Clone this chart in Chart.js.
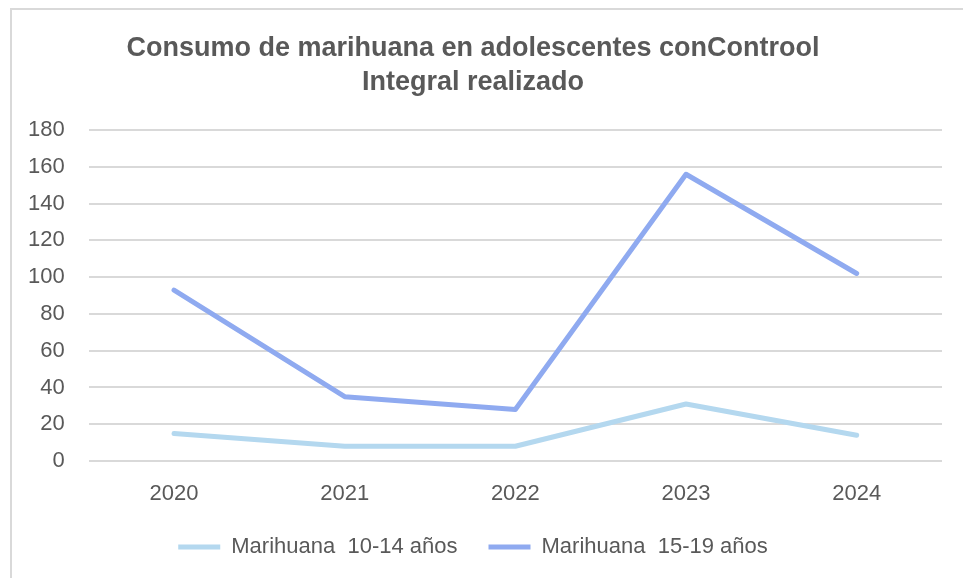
<!DOCTYPE html>
<html>
<head>
<meta charset="utf-8">
<script src="https://cdn.jsdelivr.net/npm/chart.js@4.4.1/dist/chart.umd.min.js"></script>
<style>
  html, body { margin: 0; padding: 0; background: #fff; }
  #wrap { position: relative; width: 963px; height: 578px; overflow: hidden; }
  #frame { position: absolute; left: 10px; top: 8px; width: 980px; height: 600px;
           border-left: 2px solid #d9d9d9; border-top: 2px solid #d9d9d9; }
  canvas { position: absolute; left: 0; top: 0; }
</style>
</head>
<body>
<div id="wrap">
  <div id="frame"></div>
  <canvas id="lineChart" width="963" height="578"></canvas>
</div>
<script>
// datos del gráfico
const years = ['2020', '2021', '2022', '2023', '2024'];
const edad10a14 = [15, 8, 8, 31, 14];
const edad15a19 = [93, 35, 28, 156, 102];
const yTicks = [0, 20, 40, 60, 80, 100, 120, 140, 160, 180];

const colorClaro = 'rgb(180, 216, 239)';
const colorOscuro = 'rgb(143, 170, 240)';
const textColor = '#595959';
const fuente = "'Liberation Sans', Arial, sans-serif";

let chart;

window.onload = function () {
    let ctx = document.getElementById('lineChart').getContext('2d');

    chart = new Chart(ctx, {
        type: 'line',
        data: {
            labels: years,
            datasets: [{
                label: 'Marihuana  10-14 años',
                data: edad10a14,
                borderColor: colorClaro,
                backgroundColor: colorClaro,
                borderWidth: 5,
                borderCapStyle: 'round',
                borderJoinStyle: 'round',
                pointRadius: 0,
                tension: 0
            }, {
                label: 'Marihuana  15-19 años',
                data: edad15a19,
                borderColor: colorOscuro,
                backgroundColor: colorOscuro,
                borderWidth: 5,
                borderCapStyle: 'round',
                borderJoinStyle: 'round',
                pointRadius: 0,
                tension: 0
            }]
        },
        options: {
            responsive: false,
            animation: false,
            layout: {
                padding: { left: 4, right: 21, top: 14, bottom: 10 }
            },
            plugins: {
                title: {
                    display: true,
                    text: ['Consumo de marihuana en adolescentes conControol', 'Integral realizado'],
                    color: textColor,
                    font: { family: fuente, size: 27, weight: 'bold', lineHeight: 1.28 },
                    padding: { top: 17, bottom: 30 }
                },
                legend: {
                    position: 'bottom',
                    labels: {
                        color: textColor,
                        font: { family: fuente, size: 22 },
                        boxWidth: 42,
                        boxHeight: 5,
                        useBorderRadius: true,
                        borderRadius: 2.5,
                        padding: 31,
                        generateLabels: function (c) {
                            return c.data.datasets.map(function (ds, i) {
                                return {
                                    text: ds.label,
                                    fillStyle: ds.borderColor,
                                    strokeStyle: ds.borderColor,
                                    lineWidth: 0,
                                    fontColor: textColor,
                                    datasetIndex: i
                                };
                            });
                        }
                    }
                },
                tooltip: { enabled: false }
            },
            scales: {
                x: {
                    offset: true,
                    grid: { display: false },
                    border: { display: false },
                    ticks: {
                        color: textColor,
                        font: { family: fuente, size: 22 },
                        padding: 12
                    },
                    afterFit: function (scale) {
                        scale.height = 44; // alto fijo del eje x
                    }
                },
                y: {
                    min: 0,
                    max: 180,
                    afterBuildTicks: function (axis) {
                        axis.ticks = yTicks.map(function (v) { return { value: v }; });
                    },
                    grid: { color: '#d9d9d9', lineWidth: 2, drawTicks: false },
                    border: { display: false },
                    ticks: {
                        color: textColor,
                        font: { family: fuente, size: 22 },
                        padding: 24
                    }
                }
            }
        }
    });
}
</script>
</body>
</html>
